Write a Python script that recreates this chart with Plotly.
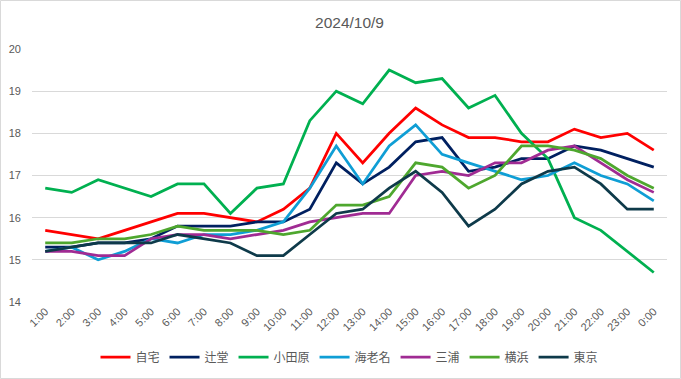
import plotly.graph_objects as go

hours = ["1:00","2:00","3:00","4:00","5:00","6:00","7:00","8:00","9:00","10:00","11:00","12:00",
         "13:00","14:00","15:00","16:00","17:00","18:00","19:00","20:00","21:00","22:00","23:00","0:00"]

jitaku   = [15.7,15.6,15.5,15.7,15.9,16.1,16.1,16.0,15.9,16.2,16.7,18.0,17.3,18.0,18.6,18.2,17.9,17.9,17.8,17.8,18.1,17.9,18.0,17.6]
tsujido  = [15.3,15.3,15.4,15.4,15.5,15.8,15.8,15.8,15.9,15.9,16.2,17.3,16.8,17.2,17.8,17.9,17.1,17.2,17.4,17.4,17.7,17.6,17.4,17.2]
odawara  = [16.7,16.6,16.9,16.7,16.5,16.8,16.8,16.1,16.7,16.8,18.3,19.0,18.7,19.5,19.2,19.3,18.6,18.9,18.0,17.4,16.0,15.7,15.2,14.7]
ebina    = [15.2,15.3,15.0,15.2,15.5,15.4,15.6,15.6,15.7,15.9,16.7,17.7,16.8,17.7,18.2,17.5,17.3,17.1,16.9,17.0,17.3,17.0,16.8,16.4]
miura    = [15.2,15.2,15.1,15.1,15.5,15.6,15.6,15.5,15.6,15.7,15.9,16.0,16.1,16.1,17.0,17.1,17.0,17.3,17.3,17.6,17.7,17.3,16.9,16.6]
yokohama = [15.4,15.4,15.5,15.5,15.6,15.8,15.7,15.7,15.7,15.6,15.7,16.3,16.3,16.5,17.3,17.2,16.7,17.0,17.7,17.7,17.6,17.4,17.0,16.7]
tokyo    = [15.2,15.3,15.4,15.4,15.4,15.6,15.5,15.4,15.1,15.1,15.6,16.1,16.2,16.7,17.1,16.6,15.8,16.2,16.8,17.1,17.2,16.8,16.2,16.2]

series_names = ["自宅","辻堂","小田原","海老名","三浦","横浜","東京"]
series_values = [jitaku, tsujido, odawara, ebina, miura, yokohama, tokyo]
colors = ["#FF0000","#002060","#00B050","#0F9ED5","#A02B93","#4EA72E","#0E3A4A"]

fig = go.Figure()
for name, vals, col in zip(series_names, series_values, colors):
    fig.add_trace(go.Scatter(x=hours, y=vals, name=name, mode="lines",
                             line=dict(color=col, width=2.75)))

W, H = 681, 379
ml, mr, mt, mb = 32, 14, 49, 77
pw, ph = W - ml - mr, H - mt - mb

font_fam = "Liberation Sans, Noto Sans CJK JP, sans-serif"
fig.update_layout(
    width=W, height=H,
    margin=dict(l=ml, r=mr, t=mt, b=mb, autoexpand=False),
    paper_bgcolor="white", plot_bgcolor="white",
    font=dict(family=font_fam, color="#595959", size=11),
    title=dict(text="2024/10/9", x=0.5, xref="paper", xanchor="center",
               yref="container", y=1 - 23/H, yanchor="middle", automargin=False,
               font=dict(size=15.5, color="#595959", family=font_fam)),
    showlegend=True,
    legend=dict(orientation="h", x=0.5, xanchor="center", y=-(357 - (H - mb)) / ph, yanchor="middle",
                font=dict(size=12, color="#595959", family="Noto Sans CJK JP, sans-serif"),
                itemwidth=30, tracegroupgap=0, bgcolor="rgba(0,0,0,0)"),
    xaxis=dict(type="category", range=[-0.5, len(hours) - 0.5], tickangle=-45, showgrid=False,
               showline=False, zeroline=False, automargin=False,
               tickfont=dict(size=11, color="#595959"), ticks=""),
    yaxis=dict(range=[14, 20], dtick=1, showgrid=True, gridcolor="#D9D9D9", gridwidth=1,
               zeroline=False, showline=False, automargin=False, ticklabelstandoff=10,
               tickfont=dict(size=11, color="#595959"), ticks="", ticklen=0),
    shapes=[dict(type="rect", xref="paper", yref="paper",
                 x0=(0.5 - ml) / pw, x1=(W - 0.5 - ml) / pw,
                 y0=-(H - 0.5 - (H - mb)) / ph, y1=1 + (mt - 0.5) / ph,
                 line=dict(color="#D9D9D9", width=1), fillcolor="rgba(0,0,0,0)", layer="below")],
)

fig.write_html("out.html", config={"displayModeBar": False},
               post_script="document.body.style.margin='0';document.body.style.overflow='hidden';")
